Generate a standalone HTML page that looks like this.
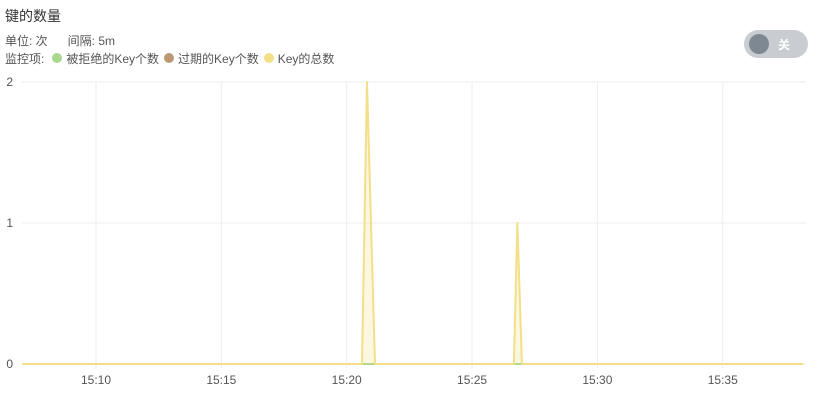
<!DOCTYPE html>
<html><head><meta charset="utf-8"><style>
body{margin:0;width:824px;height:400px;background:#fff;font-family:"Liberation Sans","Noto Sans CJK SC",sans-serif;overflow:hidden;position:relative}
.t{position:absolute;left:5px;top:6px;font-size:14px;color:#333}
.u{position:absolute;left:5px;top:32px;font-size:12px;color:#555}
.l{position:absolute;left:5px;top:50px;font-size:12px;color:#555;display:flex;align-items:center}
.dot{display:inline-block;width:10px;height:10px;border-radius:50%;margin:0 4px 0 8px}
.tg{position:absolute;left:744px;top:30px;width:64px;height:28px;border-radius:14px;background:#c9cdd2}
.tg .k{position:absolute;left:5px;top:4px;width:20px;height:20px;border-radius:50%;background:#7e8893}
.tg span{position:absolute;left:34px;top:6px;font-size:12px;color:#fff;font-weight:bold}
</style></head><body>
<div class="t">键的数量</div>
<div class="u">单位: 次&nbsp;&nbsp;&nbsp;&nbsp;&nbsp;&nbsp;间隔: 5m</div>
<div class="l">监控项:
<span><span class="dot" style="background:#a6d98e"></span>被拒绝的Key个数</span>
<span><span class="dot" style="background:#bb9a73;margin-left:5px"></span>过期的Key个数</span>
<span><span class="dot" style="background:#f2df88;margin-left:5px"></span>Key的总数</span></div>
<div class="tg"><div class="k"></div><span>关</span></div>
<svg id="c" width="824" height="400" style="position:absolute;left:0;top:0"></svg>
<script>
const yTicks=[0,1,2];
const xTickMinutes=[10,15,20,25,30,35];
const xTickLabels=["15:10","15:15","15:20","15:25","15:30","15:35"];
const totalTimes=[7.05,20.61,20.81,21.13,26.67,26.81,26.99,38.2];
const totalValues=[0,0,2,0,0,1,0,0];
const rejectedTimes=[7.05,38.2];
const rejectedValues=[0,0];
const expiredTimes=[7.05,38.2];
const expiredValues=[0,0];
const X=m=>96+(m-10)*25.07, Y=v=>364-v*141;
const svg=document.getElementById('c'),NS='http://www.w3.org/2000/svg';
function add(tag,attrs,txt){const e=document.createElementNS(NS,tag);for(const k in attrs)e.setAttribute(k,attrs[k]);if(txt!=null)e.textContent=txt;svg.appendChild(e);return e;}
yTicks.forEach(v=>{
 const g=add('line',{x1:22,x2:806,y1:Y(v),y2:Y(v),stroke:'#eee'});
 
 
 const t=add('text',{x:13,y:Y(v)+4,'text-anchor':'end','font-size':12,fill:'#555'},v);
 
 
});
xTickMinutes.forEach((m,i)=>{
 const g=add('line',{x1:X(m),x2:X(m),y1:82,y2:368,stroke:'#eee'});
 
 
 const t=add('text',{x:X(m),y:384,'text-anchor':'middle','font-size':12,fill:'#555'},xTickLabels[i]);
 
 
});
function pts(ts,vs){return ts.map((t,i)=>X(t).toFixed(1)+','+Y(vs[i]).toFixed(1)).join(' ');}
const e=add('polyline',{points:pts(expiredTimes,expiredValues),fill:'none',stroke:'#bb9a73','stroke-width':2});


const r=add('polyline',{points:pts(rejectedTimes,rejectedValues),fill:'none',stroke:'#a6d98e','stroke-width':2});


const a=add('polygon',{points:pts(totalTimes,totalValues)+' '+X(totalTimes[totalTimes.length-1])+','+Y(0)+' '+X(totalTimes[0])+','+Y(0),fill:'rgba(242,223,136,0.25)',stroke:'none'});


const tl=add('polyline',{points:pts(totalTimes,totalValues),fill:'none',stroke:'#f2df88','stroke-width':2,'stroke-linejoin':'round'});


</script>
</body></html>
